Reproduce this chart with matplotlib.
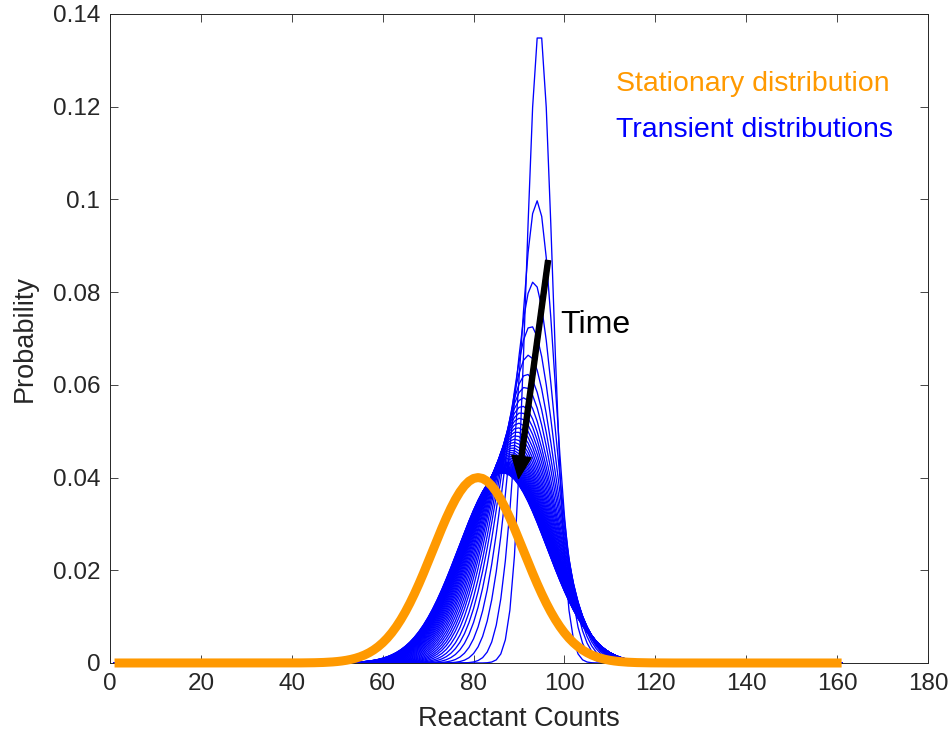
import numpy as np
import matplotlib
matplotlib.use("Agg")
import matplotlib.pyplot as plt
from matplotlib.ticker import FuncFormatter

# State space of the reactant count
counts = np.arange(1, 162)

# Stationary distribution: centre and peak probability
stationary_mean = 81.0
stationary_peak = 0.0400

# Transient distributions, one entry per time snapshot: centre and peak probability
transient_peak_counts = [
    94.50, 93.95, 93.20, 92.60, 92.10, 91.70, 91.35, 91.00, 90.70, 90.45,
    90.20, 89.95, 89.72, 89.49, 89.29, 89.09, 88.90, 88.73, 88.57, 88.41,
    88.27, 88.13, 88.00, 87.88, 87.76, 87.65, 87.55, 87.46, 87.37, 87.28,
    87.20, 87.13, 87.05, 86.99, 86.92, 86.87, 86.81, 86.76, 86.71, 86.66,
    86.62, 86.57, 86.54, 86.50, 86.46, 86.43,
]
transient_peak_probs = [
    0.1368, 0.0997, 0.0822, 0.0727, 0.0664, 0.0623, 0.0595, 0.0572, 0.0554, 0.0540,
    0.05280, 0.05172, 0.05074, 0.04985, 0.04903, 0.04828, 0.04760, 0.04698, 0.04641, 0.04590,
    0.04542, 0.04499, 0.04460, 0.04424, 0.04391, 0.04362, 0.04334, 0.04309, 0.04287, 0.04266,
    0.04247, 0.04230, 0.04214, 0.04200, 0.04187, 0.04175, 0.04164, 0.04154, 0.04145, 0.04136,
    0.04129, 0.04122, 0.04116, 0.04110, 0.04105, 0.04100,
]

x_ticks = [0, 20, 40, 60, 80, 100, 120, 140, 160, 180]
y_ticks = [0, 0.02, 0.04, 0.06, 0.08, 0.10, 0.12, 0.14]

ORANGE = "#FF9900"
BLUE = "#0000FF"
AXCOL = "#262626"


def normal_pmf(x, centre, peak):
    """Discretised normal probability mass with the given mode height."""
    sigma = 1.0 / (peak * np.sqrt(2.0 * np.pi))
    return peak * np.exp(-0.5 * ((x - centre) / sigma) ** 2)


plt.rcParams["font.family"] = ["Liberation Sans", "DejaVu Sans"]

fig = plt.figure(figsize=(9.5, 7.33), dpi=100)
ax = fig.add_axes([0.1158, 0.0955, 0.861, 0.8855])

for c, p in zip(transient_peak_counts, transient_peak_probs):
    ax.plot(counts, normal_pmf(counts, c, p), color=BLUE, lw=0.95, clip_on=False, zorder=2)

ax.plot(counts, normal_pmf(counts, stationary_mean, stationary_peak),
        color=ORANGE, lw=6.5, clip_on=False, zorder=3, solid_capstyle="butt")

ax.annotate("", xy=(89.9, 0.0398), xytext=(96.4, 0.0868),
            arrowprops=dict(width=3.6, headwidth=14, headlength=16,
                            facecolor="black", edgecolor="black", shrink=0.0),
            zorder=4)
ax.text(99.0, 0.0729, "Time", fontsize=23, color="black", va="center", ha="left")

ax.text(111.4, 0.1249, "Stationary distribution", fontsize=20.5, color=ORANGE,
        va="center", ha="left")
ax.text(111.4, 0.1150, "Transient distributions", fontsize=20.5, color=BLUE,
        va="center", ha="left")

ax.set_xlim(0, 180)
ax.set_ylim(0, 0.14)
ax.set_xticks(x_ticks)
ax.set_yticks(y_ticks)
ax.yaxis.set_major_formatter(FuncFormatter(lambda v, _: "%g" % round(v, 4)))

ax.tick_params(axis="both", which="both", direction="in", length=6, width=0.6,
               color=AXCOL, labelcolor=AXCOL, labelsize=17.5,
               top=True, right=True)
ax.tick_params(axis="x", pad=7)
ax.tick_params(axis="y", pad=7)
for s in ax.spines.values():
    s.set_color(AXCOL)
    s.set_linewidth(0.7)

ax.set_xlabel("Reactant Counts", fontsize=19.5, color=AXCOL, labelpad=8)
ax.set_ylabel("Probability", fontsize=19.5, color=AXCOL, labelpad=11)

fig.savefig("out.png", dpi=100)
